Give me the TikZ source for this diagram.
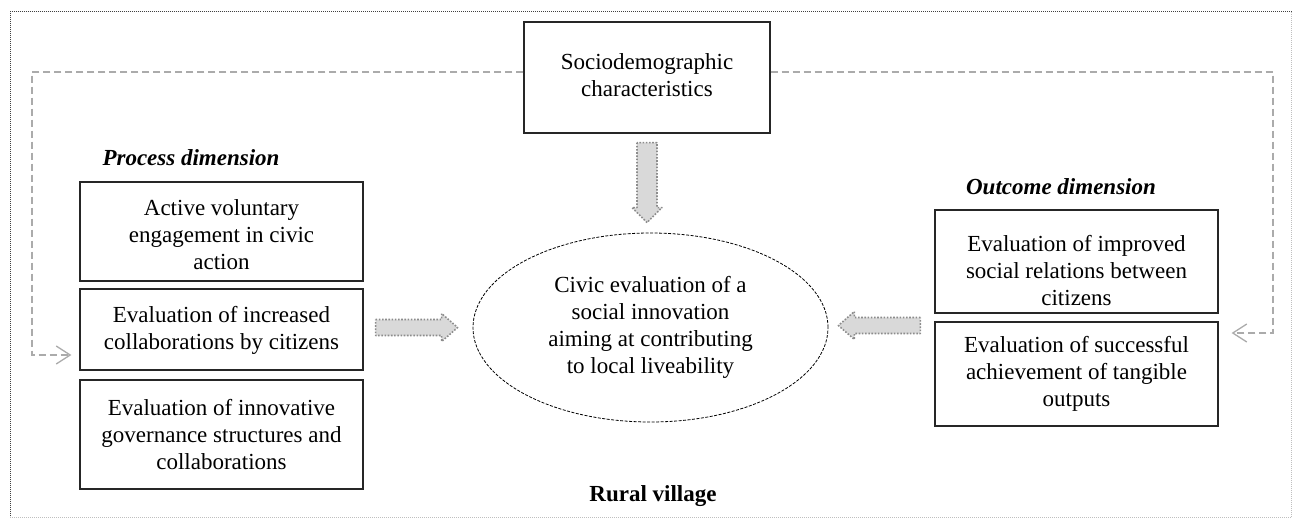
\documentclass[tikz,border=0pt]{standalone}
\usepackage{fontspec}
\setmainfont{Liberation Serif}
\newfontfamily\tnr{Liberation Serif}
\usetikzlibrary{arrows.meta,shapes.geometric,calc}
\begin{document}
\begin{tikzpicture}[x=1pt,y=-1pt,
  box/.style={draw=black!85,line width=1.2pt,inner sep=0pt,fill=none},
  txt/.style={align=center,inner sep=0pt,font=\tnr\fontsize{23}{27}\selectfont},
  head/.style={inner sep=0pt,font=\tnr\fontsize{23}{27}\selectfont\bfseries\itshape},
  fb/.style={draw=black!33,line width=1.6pt,dash pattern=on 7pt off 4pt},
  fbtip/.style={-{Straight Barb[length=14pt,width=18pt,line width=1.3pt]}},
  blk/.style={draw=black!45,fill=black!15,line width=1.6pt,
    dash pattern=on 1.6pt off 1.6pt,line join=round},
  oval/.style={ellipse,draw=black,line width=0.8pt,dash pattern=on 3pt off 1.5pt,inner sep=0pt}]
\useasboundingbox (0,0) rectangle (1293,519);
% outer frame
\draw[black!75,line width=1pt,dash pattern=on 1pt off 1pt] (1291.5,12) -- (10,12) -- (10,517.5);
\draw[black!25,line width=1pt,dash pattern=on 1pt off 1pt] (10,517.5) -- (1291.5,517.5) -- (1291.5,12);

% socio box
\node[box,minimum width=246pt,minimum height=111pt] (socio) at (647,77.5) {};
\node[txt] (sociot) at (647,75) {Sociodemographic\\characteristics};

% headings
\node[head] (proc) at (191,158) {Process dimension};
\node[head] (outc) at (1061,187) {Outcome dimension};
\node[inner sep=0pt,font=\tnr\fontsize{23}{27}\selectfont\bfseries] (rural) at (653,496) {Rural village};

% left boxes
\node[box,minimum width=283pt,minimum height=99pt] (lb1) at (221.5,231.5) {};
\node[txt] (lb1t) at (221.5,235) {Active voluntary\\engagement in civic\\action};
\node[box,minimum width=283pt,minimum height=81pt] (lb2) at (221.5,329.5) {};
\node[txt] (lb2t) at (221.5,330) {Evaluation of increased\\collaborations by citizens};
\node[box,minimum width=283pt,minimum height=109pt] (lb3) at (221.5,434.5) {};
\node[txt] (lb3t) at (221.5,434.5) {Evaluation of innovative\\governance structures and\\collaborations};

% right boxes
\node[box,minimum width=283pt,minimum height=103pt] (rb1) at (1076.5,261.5) {};
\node[txt] (rb1t) at (1076.5,271) {Evaluation of improved\\social relations between\\citizens};
\node[box,minimum width=283pt,minimum height=104pt] (rb2) at (1076.5,374) {};
\node[txt] (rb2t) at (1076.5,374) {Evaluation of successful\\achievement of tangible\\outputs};

% ellipse
\node[oval,minimum width=355pt,minimum height=189pt] (ell) at (650.5,327.5) {};
\node[txt] (ellt) at (650.5,327.5) {Civic evaluation of a\\social innovation\\aiming at contributing\\to local liveability};

% block arrows
\coordinate (dT) at ($(socio.south)+(0,9)$);
\coordinate (dP) at ($(ell.north)+(0,-10)$);
\draw[blk] ($(dT)+(-10,0)$) -- ($(dT|-dP)+(-10,-15)$) -- ($(dT|-dP)+(-15,-15)$) -- (dT|-dP)
  -- ($(dT|-dP)+(15,-15)$) -- ($(dT|-dP)+(10,-15)$) -- ($(dT)+(10,0)$) -- cycle;

\coordinate (lT) at ($(lb2.east |- ell.west)+(12,0)$);
\coordinate (lP) at ($(ell.west)+(-15,0)$);
\draw[blk] ($(lT)+(0,-8)$) -- ($(lP)+(-16,-8)$) -- ($(lP)+(-16,-14)$) -- (lP)
  -- ($(lP)+(-16,14)$) -- ($(lP)+(-16,8)$) -- ($(lT)+(0,8)$) -- cycle;

\coordinate (rT) at ($(rb2.west |- ell.east)+(-14,-2)$);
\coordinate (rP) at ($(ell.east)+(10,-2)$);
\draw[blk] ($(rT)+(0,-8)$) -- ($(rP)+(16,-8)$) -- ($(rP)+(16,-14)$) -- (rP)
  -- ($(rP)+(16,14)$) -- ($(rP)+(16,8)$) -- ($(rT)+(0,8)$) -- cycle;

% feedback dashed connectors
\coordinate (lt) at (32,72);
\coordinate (rt) at (1273,72);
\draw[fb,fbtip] (socio.west |- lt) -- (lt) |- ([xshift=-8pt,yshift=-25.5pt]lb2.west);
\draw[fb,fbtip] (socio.east |- rt) -- (rt) |- ([xshift=13pt,yshift=41pt]rb2.east);
\end{tikzpicture}
\end{document}
